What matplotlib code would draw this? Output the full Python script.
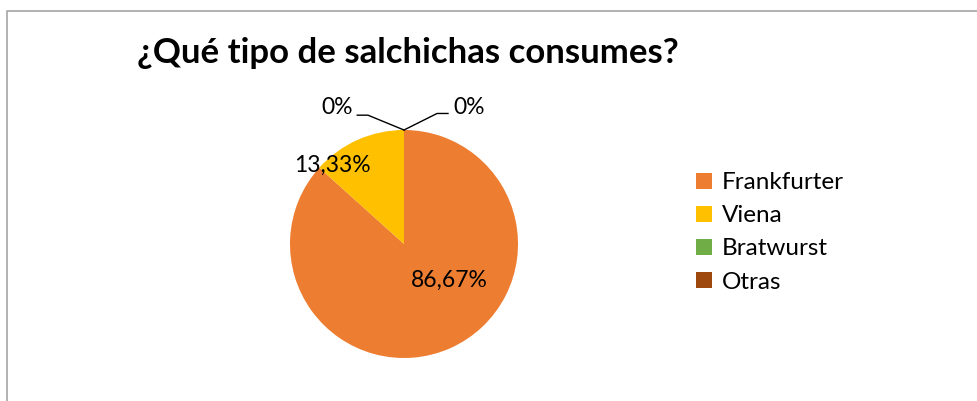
import matplotlib
matplotlib.use("Agg")
import matplotlib.pyplot as plt
from matplotlib.patches import Rectangle, Patch

categorias = ["Frankfurter", "Viena", "Bratwurst", "Otras"]
porcentajes = [86.67, 13.33, 0.0, 0.0]
etiquetas = ["86,67%", "13,33%", "0%", "0%"]
colores = ["#ED7D31", "#FFC000", "#70AD47", "#9E480E"]

plt.rcParams['font.family'] = ['Lato', 'DejaVu Sans']

W, H = 977, 401
fig = plt.figure(figsize=(W / 100, H / 100), dpi=100)
fig.patch.set_facecolor("white")

# chart area border (only top and left edges visible)
fig.add_artist(Rectangle((7 / W, -0.5), 1.5, 0.5 + (H - 11) / H,
                         transform=fig.transFigure, fill=False,
                         edgecolor="#A6A6A6", linewidth=1.2))

fig.text(137 / W, 1 - 53 / H, "¿Qué tipo de salchichas consumes?",
         fontsize=25, fontweight="bold", va="center", ha="left")

# pie: center (404, 244) px, radius 114 px
cx, cy, r = 404, 244, 114
ax = fig.add_axes([(cx - r) / W, (H - cy - r) / H, 2 * r / W, 2 * r / H])
wedges, _ = ax.pie(porcentajes, colors=colores, startangle=90,
                   counterclock=False, radius=1.0)
ax.set_xlim(-1, 1)
ax.set_ylim(-1, 1)
ax.set_aspect("equal")
ax.axis("off")

fs = 16.5
ax.text(0.40, -0.32, etiquetas[0], fontsize=fs, ha="center", va="center")
ax.text(-0.63, 0.69, etiquetas[1], fontsize=fs, ha="center", va="center",
        clip_on=False)

# zero-value slices with leader lines to the top of the pie
ax.plot([0, -0.316, -0.41], [1.0, 1.13, 1.13], color="black", lw=1,
        clip_on=False)
ax.plot([0, 0.29, 0.386], [1.0, 1.145, 1.145], color="black", lw=1,
        clip_on=False)
ax.text(-0.45, 1.20, etiquetas[2], fontsize=fs, ha="right", va="center",
        clip_on=False)
ax.text(0.43, 1.20, etiquetas[3], fontsize=fs, ha="left", va="center",
        clip_on=False)

handles = [Patch(facecolor=c, edgecolor="none") for c in colores]
fig.legend(handles, categorias, loc="upper left",
           bbox_to_anchor=(684 / W, 1 - 160 / H), frameon=False,
           fontsize=17.5, handlelength=0.65, handleheight=0.65,
           handletextpad=0.4, labelspacing=0.5, borderpad=0)

fig.savefig("out.png", dpi=100, facecolor="white")
